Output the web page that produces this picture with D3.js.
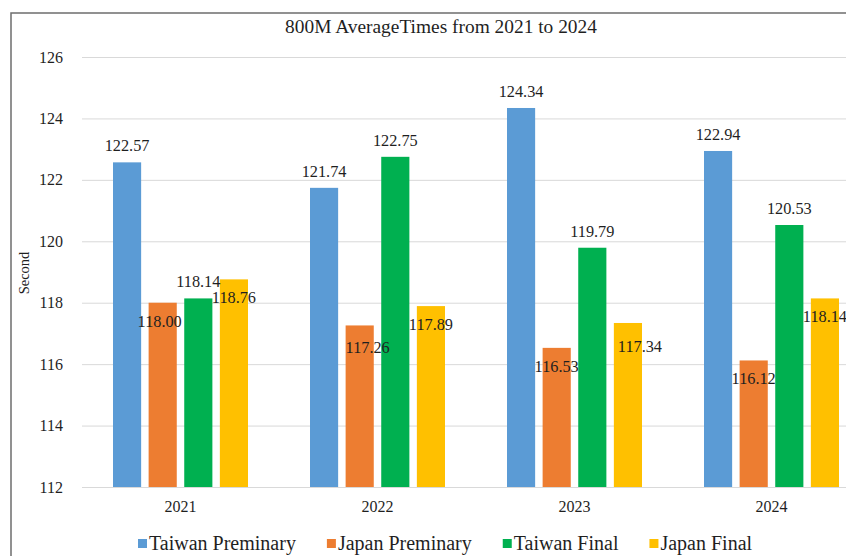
<!DOCTYPE html>
<html>
<head>
<meta charset="utf-8">
<script src="https://cdn.jsdelivr.net/npm/d3@7"></script>
<style>
  html, body { margin: 0; padding: 0; background: #fff; }
  svg { display: block; }
  text { font-family: "Liberation Serif", "Times New Roman", serif; fill: #1f1f1f; }
</style>
</head>
<body>
<div id="chart"></div>
<script>
// ---- data ----
const years = ["2021", "2022", "2023", "2024"];
const seriesNames = ["Taiwan Preminary", "Japan Preminary", "Taiwan Final", "Japan Final"];
const taiwanPreliminary = [122.57, 121.74, 124.34, 122.94];
const japanPreliminary = [118.00, 117.26, 116.53, 116.12];
const taiwanFinal = [118.14, 122.75, 119.79, 120.53];
const japanFinal = [118.76, 117.89, 117.34, 118.14];
const yTicks = [112, 114, 116, 118, 120, 122, 124, 126];
const titleText = "800M AverageTimes from 2021 to 2024";
const yAxisTitle = "Second";

// ---- styling / layout ----
const W = 846, H = 556;
const FONT = "'Liberation Serif', 'Times New Roman', serif";
const colors = ["#5B9BD5", "#ED7D31", "#00B050", "#FFC000"];
const labelInside = [false, true, false, true]; // Japan labels sit inside the bar top
// manual label nudges (as placed in the original chart): [dx, dy]
const labelNudge = {
  "2021|Japan Preminary": [-3, 0],
  "2022|Japan Preminary": [8, 4],
  "2023|Japan Final": [12, 5]
};
const seriesValues = [taiwanPreliminary, japanPreliminary, taiwanFinal, japanFinal];

const svg = d3.select("#chart").append("svg")
  .attr("width", W).attr("height", H)
  .attr("font-family", FONT);

// frame
svg.append("rect")
  .attr("x", 11).attr("y", 13)
  .attr("width", W + 20).attr("height", H + 20)
  .attr("fill", "none").attr("stroke", "#6e6e6e").attr("stroke-width", 1.5);

const x0 = d3.scaleBand().domain(years).range([82, 870]).paddingInner(0).paddingOuter(0);
const x1 = d3.scaleBand().domain(seriesNames).range([31, 166]).paddingInner(0.21).paddingOuter(0);
const y = d3.scaleLinear().domain([112, 126]).range([487, 57]);

// gridlines + y ticks
const yAxis = d3.axisLeft(y).tickValues(yTicks).tickSize(-(870 - 82)).tickPadding(19).tickFormat(d3.format("d"));
const gy = svg.append("g").attr("transform", "translate(82,0)").call(yAxis)
  .attr("font-family", FONT).attr("font-size", 16);
gy.select(".domain").remove();
gy.selectAll(".tick line").attr("stroke", "#d9d9d9").attr("stroke-width", 1);
gy.selectAll(".tick text").attr("fill", "#1f1f1f");

// x axis
const xAxis = d3.axisBottom(x0).tickSize(0).tickPadding(14);
const gx = svg.append("g").attr("transform", "translate(0,487)").call(xAxis)
  .attr("font-family", FONT).attr("font-size", 16);
gx.select(".domain").attr("stroke", "#d9d9d9");
gx.selectAll(".tick text").attr("fill", "#1f1f1f");

// bars
const rows = [];
years.forEach((yr, i) => {
  seriesNames.forEach((s, j) => {
    rows.push({ year: yr, series: s, si: j, value: seriesValues[j][i] });
  });
});

svg.append("g").selectAll("rect").data(rows).join("rect")
  .attr("x", d => x0(d.year) + x1(d.series))
  .attr("y", d => y(d.value))
  .attr("width", x1.bandwidth())
  .attr("height", d => y(112) - y(d.value))
  .attr("fill", d => colors[d.si]);

// value labels
const nudge = d => labelNudge[d.year + "|" + d.series] || [0, 0];
svg.append("g").selectAll("text").data(rows).join("text")
  .attr("x", d => x0(d.year) + x1(d.series) + x1.bandwidth() / 2 + nudge(d)[0])
  .attr("y", d => y(d.value) + (labelInside[d.si] ? 24 : -11) + nudge(d)[1])
  .attr("text-anchor", "middle")
  .attr("font-size", 16.3)
  .text(d => d.value.toFixed(2));

// title
svg.append("text")
  .attr("x", 441).attr("y", 33)
  .attr("text-anchor", "middle")
  .attr("font-size", 19.4)
  .text(titleText);

// y axis title
svg.append("text")
  .attr("transform", "translate(29,273) rotate(-90)")
  .attr("text-anchor", "middle")
  .attr("font-size", 14.5)
  .text(yAxisTitle);

// legend
const legend = svg.append("g");
let lx = 138;
seriesNames.forEach((s, j) => {
  legend.append("rect").attr("x", lx).attr("y", 539).attr("width", 9).attr("height", 9).attr("fill", colors[j]);
  const t = legend.append("text").attr("x", lx + 11).attr("y", 550)
    .attr("font-size", 20).text(s);
  lx += 11 + t.node().getComputedTextLength() + 31;
});
</script>
</body>
</html>
